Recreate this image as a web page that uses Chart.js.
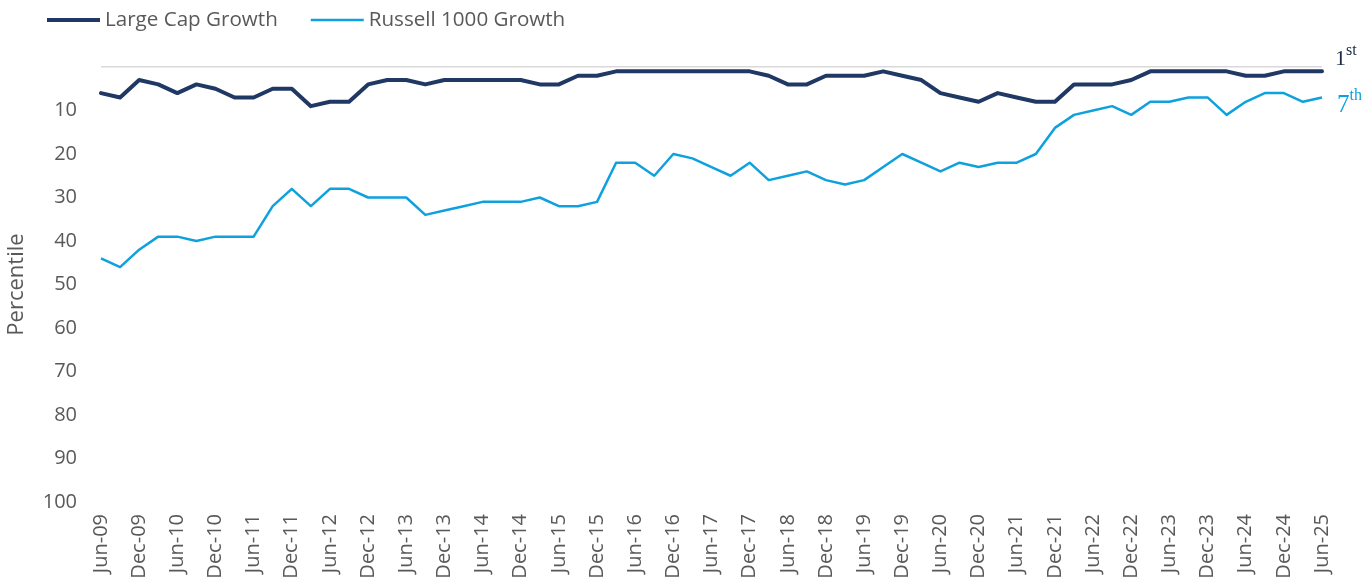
<!DOCTYPE html>
<html>
<head>
<meta charset="utf-8">
<script src="https://cdn.jsdelivr.net/npm/chart.js@4.4.1/dist/chart.umd.min.js"></script>
<style>
  html, body { margin: 0; padding: 0; background: #fff; }
  #wrap { width: 1372px; height: 586px; position: relative; }
</style>
</head>
<body>
<div id="wrap"><canvas id="rankChart"></canvas></div>
<script>
// quarterly dates, Jun-09 .. Jun-25
const quarters = [
  'Jun-09','Sep-09','Dec-09',
  'Mar-10','Jun-10','Sep-10','Dec-10',
  'Mar-11','Jun-11','Sep-11','Dec-11',
  'Mar-12','Jun-12','Sep-12','Dec-12',
  'Mar-13','Jun-13','Sep-13','Dec-13',
  'Mar-14','Jun-14','Sep-14','Dec-14',
  'Mar-15','Jun-15','Sep-15','Dec-15',
  'Mar-16','Jun-16','Sep-16','Dec-16',
  'Mar-17','Jun-17','Sep-17','Dec-17',
  'Mar-18','Jun-18','Sep-18','Dec-18',
  'Mar-19','Jun-19','Sep-19','Dec-19',
  'Mar-20','Jun-20','Sep-20','Dec-20',
  'Mar-21','Jun-21','Sep-21','Dec-21',
  'Mar-22','Jun-22','Sep-22','Dec-22',
  'Mar-23','Jun-23','Sep-23','Dec-23',
  'Mar-24','Jun-24','Sep-24','Dec-24',
  'Mar-25','Jun-25'
];

// percentile ranks (lower = better)
const largeCapGrowth = [
  6,7,3,4,6,4,5,7,7,5,5,9,8,8,4,3,3,4,3,
  3,3,3,3,4,4,2,2,
  1,1,1,1,1,1,1,1,
  2,4,4,2,2,2,1,2,
  3,6,7,8,6,7,8,8,4,4,4,3,1,1,1,1,1,2,2,1,1,1
];
const russell1000Growth = [
  44,46,42,39,39,40,39,39,39,32,28,32,28,28,30,30,30,34,33,
  32,31,31,31,30,32,32,31,
  22,22,25,20,21,23,25,22,26,25,24,26,27,26,23,20,
  22,24,22,23,22,22,20,14,11,10,9,11,8,8,7,7,11,8,6,6,8,7
];

const yTicks = [0, 10, 20, 30, 40, 50, 60, 70, 80, 90, 100];
const endLabels = [['1', 'st'], ['7', 'th']];

const NAVY = '#1F3864';
const SKY = '#0EA1DE';
const GREY_TEXT = '#595959';

// legend drawn by hand so the spacing matches
const legendPlugin = {
  id: 'customLegend',
  afterDraw(chart) {
    const ctx = chart.ctx;
    ctx.save();
    ctx.font = '20.6px "Open Sans"';
    ctx.textBaseline = 'middle';
    let x = 47;
    const y = 20;
    chart.data.datasets.forEach(ds => {
      ctx.strokeStyle = ds.borderColor;
      ctx.lineWidth = ds.borderWidth;
      ctx.beginPath();
      ctx.moveTo(x, y);
      ctx.lineTo(x + 53, y);
      ctx.stroke();
      ctx.fillStyle = GREY_TEXT;
      ctx.fillText(ds.label, x + 58, y);
      x += 58 + ctx.measureText(ds.label).width + 33;
    });
    ctx.restore();
  }
};

// "1st" / "7th" at the end of each line
const endLabelPlugin = {
  id: 'endLabels',
  afterDraw(chart) {
    const ctx = chart.ctx;
    const yScale = chart.scales.y;
    const area = chart.chartArea;
    ctx.save();
    ctx.textBaseline = 'alphabetic';
    chart.data.datasets.forEach((ds, i) => {
      const last = ds.data[ds.data.length - 1];
      const py = yScale.getPixelForValue(last);
      const big = i === 0 ? 22 : 25;
      const base = i === 0 ? py - 6 : py + 15;
      const x = area.right + (i === 0 ? 13 : 15);
      ctx.fillStyle = i === 0 ? '#1B2A47' : ds.borderColor;
      ctx.font = big + 'px "Liberation Serif"';
      ctx.fillText(endLabels[i][0], x, base);
      const w = ctx.measureText(endLabels[i][0]).width;
      ctx.font = '16px "Liberation Serif"';
      ctx.fillText(endLabels[i][1], x + w, base - (i === 0 ? 10 : 12));
    });
    ctx.restore();
  }
};

new Chart(document.getElementById('rankChart'), {
  type: 'line',
  data: {
    labels: quarters,
    datasets: [
      {
        label: 'Large Cap Growth',
        data: largeCapGrowth,
        borderColor: NAVY,
        backgroundColor: NAVY,
        borderWidth: 4,
        pointRadius: 0,
        tension: 0,
        borderJoinStyle: 'round',
        borderCapStyle: 'round'
      },
      {
        label: 'Russell 1000 Growth',
        data: russell1000Growth,
        borderColor: SKY,
        backgroundColor: SKY,
        borderWidth: 2.5,
        pointRadius: 0,
        tension: 0,
        borderJoinStyle: 'round'
      }
    ]
  },
  options: {
    responsive: true,
    maintainAspectRatio: false,
    animation: false,
    layout: { padding: { top: 67, right: 50, left: 0, bottom: 0 } },
    plugins: {
      legend: { display: false },
      tooltip: { enabled: false }
    },
    scales: {
      x: {
        offset: false,
        grid: { display: false, drawTicks: false },
        border: { display: false },
        afterFit(scale) { scale.height = 84; },
        ticks: {
          autoSkip: false,
          minRotation: 90,
          maxRotation: 90,
          padding: 12,
          color: GREY_TEXT,
          font: { family: '"Open Sans"', size: 20 },
          callback: function(value, index) {
            return index % 2 === 0 ? this.getLabelForValue(value) : '';
          }
        }
      },
      y: {
        reverse: true,
        min: 0,
        max: 100,
        afterFit(scale) { scale.width = 101; },
        afterBuildTicks(scale) {
          scale.ticks = yTicks.map(v => ({ value: v }));
        },
        border: { display: false },
        grid: {
          drawTicks: false,
          lineWidth: 1.5,
          color: ctx => (ctx.tick && ctx.tick.value === 0 ? '#D9D9D9' : 'rgba(0,0,0,0)')
        },
        ticks: {
          padding: 24,
          color: GREY_TEXT,
          font: { family: '"Open Sans"', size: 20 },
          callback: value => (value === 0 ? '' : value)
        },
        title: {
          display: true,
          text: 'Percentile',
          color: GREY_TEXT,
          font: { family: '"Open Sans"', size: 22 },
          padding: { top: 4, bottom: 4 }
        }
      }
    }
  },
  plugins: [legendPlugin, endLabelPlugin]
});
</script>
</body>
</html>
